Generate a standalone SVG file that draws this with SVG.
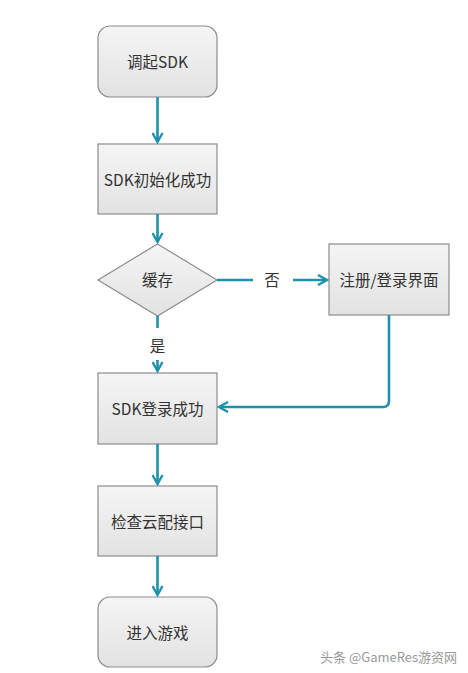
<svg xmlns="http://www.w3.org/2000/svg" width="468" height="673" viewBox="0 0 468 673">
<defs>
<linearGradient id="g" x1="0" y1="0" x2="0" y2="1">
<stop offset="0" stop-color="#f5f5f5"/>
<stop offset="1" stop-color="#e2e2e2"/>
</linearGradient>
<marker id="ah" viewBox="0 0 12 12" refX="10" refY="6" markerWidth="12" markerHeight="12" markerUnits="userSpaceOnUse" orient="auto">
<path d="M1,1 L10,6 L1,11" fill="none" stroke="#1e91ad" stroke-width="2.4"/>
</marker>
<style>
.n{fill:url(#g);stroke:#8c8c8c;stroke-width:1.2}
.t{font-family:"Noto Sans CJK SC","Liberation Sans",sans-serif;font-size:15.5px;fill:#333;text-anchor:middle;dominant-baseline:central}
.c{fill:none;stroke:#1e91ad;stroke-width:2.6}
.w{font-family:"Noto Sans CJK SC","Liberation Sans",sans-serif;font-size:13px;fill:#999}
</style>
</defs>
<rect width="468" height="673" fill="#fff"/>
<g id="n1"><rect class="n" x="98" y="26" width="119" height="71" rx="12"/><text class="t" x="157.5" y="61">调起SDK</text></g>
<g id="n2"><rect class="n" x="98" y="144" width="119" height="70"/><text class="t" x="157.5" y="179">SDK初始化成功</text></g>
<g id="n3"><polygon class="n" points="157.5,244 217,280 157.5,316 98,280"/><text class="t" x="157.5" y="279">缓存</text></g>
<g id="n4"><rect class="n" x="329" y="244" width="120" height="71"/><text class="t" x="389" y="279">注册/登录界面</text></g>
<g id="n5"><rect class="n" x="98" y="373" width="119" height="71"/><text class="t" x="157.5" y="408">SDK登录成功</text></g>
<g id="n6"><rect class="n" x="98" y="486" width="119" height="70"/><text class="t" x="157.5" y="521">检查云配接口</text></g>
<g id="n7"><rect class="n" x="98" y="597" width="119" height="70" rx="12"/><text class="t" x="157.5" y="632">进入游戏</text></g>
<g id="connectors">
<line class="c" x1="157.5" y1="97" x2="157.5" y2="142" marker-end="url(#ah)"/>
<line class="c" x1="157.5" y1="214" x2="157.5" y2="242" marker-end="url(#ah)"/>
<line class="c" x1="217" y1="280" x2="253" y2="280"/>
<text class="t" x="272" y="279">否</text>
<line class="c" x1="293" y1="280" x2="327" y2="280" marker-end="url(#ah)"/>
<line class="c" x1="157.5" y1="316" x2="157.5" y2="328"/>
<text class="t" x="157.5" y="345">是</text>
<line class="c" x1="157.5" y1="360" x2="157.5" y2="371" marker-end="url(#ah)"/>
<path class="c" d="M389,315 V401 Q389,407 383,407 H219" marker-end="url(#ah)"/>
<line class="c" x1="157.5" y1="444" x2="157.5" y2="484" marker-end="url(#ah)"/>
<line class="c" x1="157.5" y1="556" x2="157.5" y2="595" marker-end="url(#ah)"/>
</g>
<text class="w" x="320" y="662">头条 @GameRes游资网</text>
</svg>
